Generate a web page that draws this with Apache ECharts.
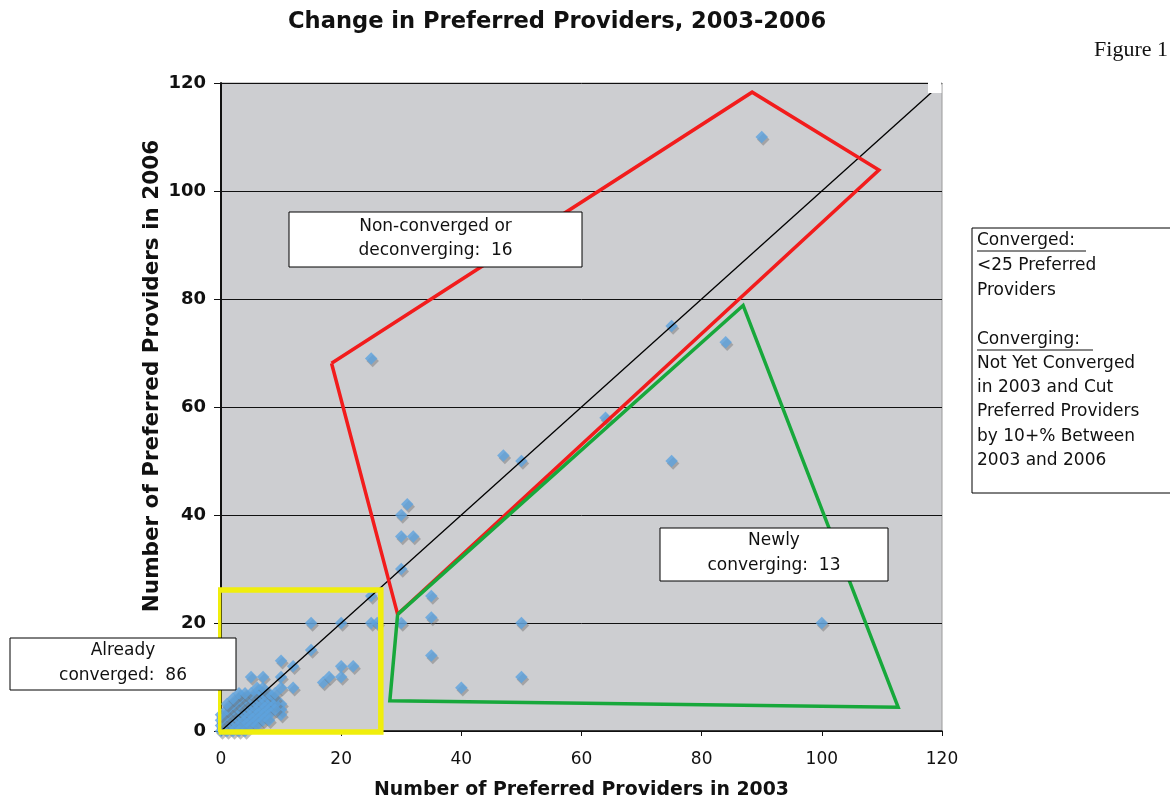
<!DOCTYPE html>
<html>
<head>
<meta charset="utf-8">
<script src="https://cdn.jsdelivr.net/npm/echarts@6/dist/echarts.min.js"></script>
<style>
html,body{margin:0;padding:0;background:#fff;}
#chart{width:1170px;height:801px;}
</style>
</head>
<body>
<div id="chart"></div>
<script>
// ---- data ----
const x2003 = [
  // outside the "already converged" box
  90, 75, 84, 64, 47, 50, 75, 25, 31, 30, 30, 32, 30, 35, 35, 30, 50, 100, 35, 40, 50,
  // sparse points inside the yellow box
  25, 25, 26, 15, 20, 15, 20, 22, 17, 18, 20, 12, 10, 10, 12, 10, 10, 10, 10, 7, 5, 6,
  // dense cluster near the origin
  0, 0, 1, 1, 1, 2, 2, 2, 3, 3, 1, 2, 3, 4, 4, 4, 5, 5, 3, 4, 5, 6, 6, 6, 7, 7, 5, 3, 2, 4, 5, 6,
  7, 8, 8, 7, 6, 5, 4, 3, 8, 9, 8, 7, 6, 9, 8, 5, 2, 1, 3, 4, 6, 7, 9, 8, 1, 2, 0, 0, 3, 4, 9, 7
];
const y2006 = [
  110, 75, 72, 58, 51, 50, 50, 69, 42, 40, 36, 36, 30, 25, 21, 20, 20, 20, 14, 8, 10,
  25, 20, 20, 20, 20, 15, 12, 12, 9, 10, 10, 12, 13, 10, 8, 8, 5, 4, 3, 10, 10, 8,
  0, 1, 0, 1, 2, 1, 2, 3, 2, 3, 3, 4, 4, 3, 4, 5, 4, 5, 5, 6, 6, 5, 6, 7, 6, 7, 7, 6, 5, 2, 3, 4,
  5, 6, 5, 4, 3, 2, 1, 1, 7, 6, 4, 3, 2, 5, 3, 1, 0, 4, 7, 7, 1, 2, 4, 2, 5, 6, 2, 3, 0, 0, 7, 8
];
const xTicks = [0, 20, 40, 60, 80, 100, 120];
const yTicks = [0, 20, 40, 60, 80, 100, 120];

// annotation outlines (in data units)
const nonConvergedPoly = [[18.4, 68.1], [88.4, 118.3], [109.5, 103.9], [29.4, 21.6], [18.4, 68.1]];
const newlyConvergingPoly = [[29.4, 21.6], [86.9, 78.8], [112.7, 4.4], [28.1, 5.6], [29.4, 21.6]];
const alreadyConvergedBox = [[-0.4, -0.2], [26.6, -0.2], [26.6, 26.1], [-0.4, 26.1], [-0.4, -0.2]];
const equalityLine = [[0, 0], [120, 120]];

const points = x2003.map((x, i) => [x, y2006[i]]);

const chart = echarts.init(document.getElementById('chart'), null, {renderer: 'canvas'});
const FONT = '"DejaVu Sans", Verdana, sans-serif';

function box(x, y, w, h, lines, cx, lineYs) {
  const children = [{
    type: 'rect', shape: {x: x, y: y, width: w, height: h}, z: 100,
    style: {fill: '#fff', stroke: '#000', lineWidth: 1}
  }];
  lines.forEach((t, i) => {
    children.push({
      type: 'text', x: cx, y: lineYs[i], z: 101,
      style: {text: t, font: '17px ' + FONT, fill: '#111', align: 'center', verticalAlign: 'middle'}
    });
  });
  return {type: 'group', children: children};
}

const rightLines = [
  ['Converged:', 241], ['<25 Preferred', 266], ['Providers', 291],
  ['Converging:', 340], ['Not Yet Converged', 364], ['in 2003 and Cut', 388],
  ['Preferred Providers', 412], ['by 10+% Between', 437], ['2003 and 2006', 461]
];
const rightChildren = [{
  type: 'rect', shape: {x: 972, y: 228, width: 210, height: 265}, z: 100,
  style: {fill: '#fff', stroke: '#000', lineWidth: 1}
}];
rightLines.forEach(l => {
  rightChildren.push({
    type: 'text', x: 977, y: l[1], z: 101,
    style: {text: l[0], font: '17px ' + FONT, fill: '#111', align: 'left', verticalAlign: 'middle'}
  });
});
rightChildren.push({type: 'line', z: 101, shape: {x1: 977, y1: 251, x2: 1086, y2: 251}, style: {stroke: '#111', lineWidth: 1}});
rightChildren.push({type: 'line', z: 101, shape: {x1: 977, y1: 350, x2: 1093, y2: 350}, style: {stroke: '#111', lineWidth: 1}});

const option = {
  backgroundColor: '#fff',
  animation: false,
  title: {
    text: 'Change in Preferred Providers, 2003-2006',
    left: 283, top: 6,
    textStyle: {fontFamily: FONT, fontSize: 22.6, fontWeight: 'bold', color: '#111'}
  },
  grid: {
    left: 221, top: 83, width: 721, height: 648,
    containLabel: false, outerBoundsMode: 'none',
    show: true, backgroundColor: '#CDCED1', borderColor: '#9a9a9a', borderWidth: 1
  },
  xAxis: {
    type: 'value', min: 0, max: 120, interval: 20,
    name: 'Number of Preferred Providers in 2003',
    nameLocation: 'middle', nameGap: 50,
    nameTextStyle: {fontFamily: FONT, fontSize: 18.9, fontWeight: 'bold', color: '#111'},
    axisLine: {show: true, onZero: false, lineStyle: {color: '#111', width: 1.5}},
    axisTick: {show: true, inside: false, length: 5, lineStyle: {color: '#111'}},
    axisLabel: {fontFamily: FONT, fontSize: 17, color: '#111', margin: 20,
      formatter: v => xTicks.includes(v) ? String(v) : ''},
    splitLine: {show: false}
  },
  yAxis: {
    type: 'value', min: 0, max: 120, interval: 20,
    axisLine: {show: true, onZero: false, lineStyle: {color: '#111', width: 2}},
    axisTick: {show: true, inside: false, length: 7, lineStyle: {color: '#111'}},
    axisLabel: {fontFamily: FONT, fontSize: 18, fontWeight: 'bold', color: '#111', margin: 15,
      formatter: v => yTicks.includes(v) ? String(v) : ''},
    splitLine: {show: true, lineStyle: {color: '#111', width: 1}}
  },
  series: [
    {
      type: 'scatter', data: points, symbol: 'diamond', symbolSize: [12.5, 12.5],
      itemStyle: {color: '#5CA3DE', shadowColor: 'rgba(110,110,110,0.55)', shadowBlur: 0, shadowOffsetX: 1.5, shadowOffsetY: 2.5},
      z: 2
    },
    {
      type: 'line', data: equalityLine, symbol: 'none', clip: true,
      lineStyle: {color: '#000', width: 1.3}, z: 3
    },
    {
      type: 'line', data: nonConvergedPoly, symbol: 'none', clip: false,
      lineStyle: {color: '#F21C1C', width: 3.5, join: 'miter'}, z: 4
    },
    {
      type: 'line', data: newlyConvergingPoly, symbol: 'none', clip: false,
      lineStyle: {color: '#17A83B', width: 3.5, join: 'miter'}, z: 5
    },
    {
      type: 'line', data: alreadyConvergedBox, symbol: 'none', clip: false,
      lineStyle: {color: '#F0EE0C', width: 5.5, join: 'miter'}, z: 6
    }
  ],
  graphic: [
    {type: 'rect', shape: {x: 928, y: 78, width: 13.5, height: 15}, style: {fill: '#fff'}, z: 50},
    {
      type: 'text', x: 152, y: 376, rotation: Math.PI / 2, z: 100,
      style: {text: 'Number of Preferred Providers in 2006', font: 'bold 21.5px ' + FONT, fill: '#111', align: 'center', verticalAlign: 'middle'}
    },
    {
      type: 'text', x: 1168, y: 50, z: 100,
      style: {text: 'Figure 1', font: '22px "Liberation Serif", "Times New Roman", serif', fill: '#111', align: 'right', verticalAlign: 'middle'}
    },
    box(289, 212, 293, 55, ['Non-converged or', 'deconverging:  16'], 435.5, [227, 251]),
    box(660, 528, 228, 53, ['Newly', 'converging:  13'], 774, [541, 566]),
    box(10, 638, 226, 52, ['Already', 'converged:  86'], 123, [651, 676]),
    {type: 'group', children: rightChildren}
  ]
};
chart.setOption(option);
</script>
</body>
</html>
